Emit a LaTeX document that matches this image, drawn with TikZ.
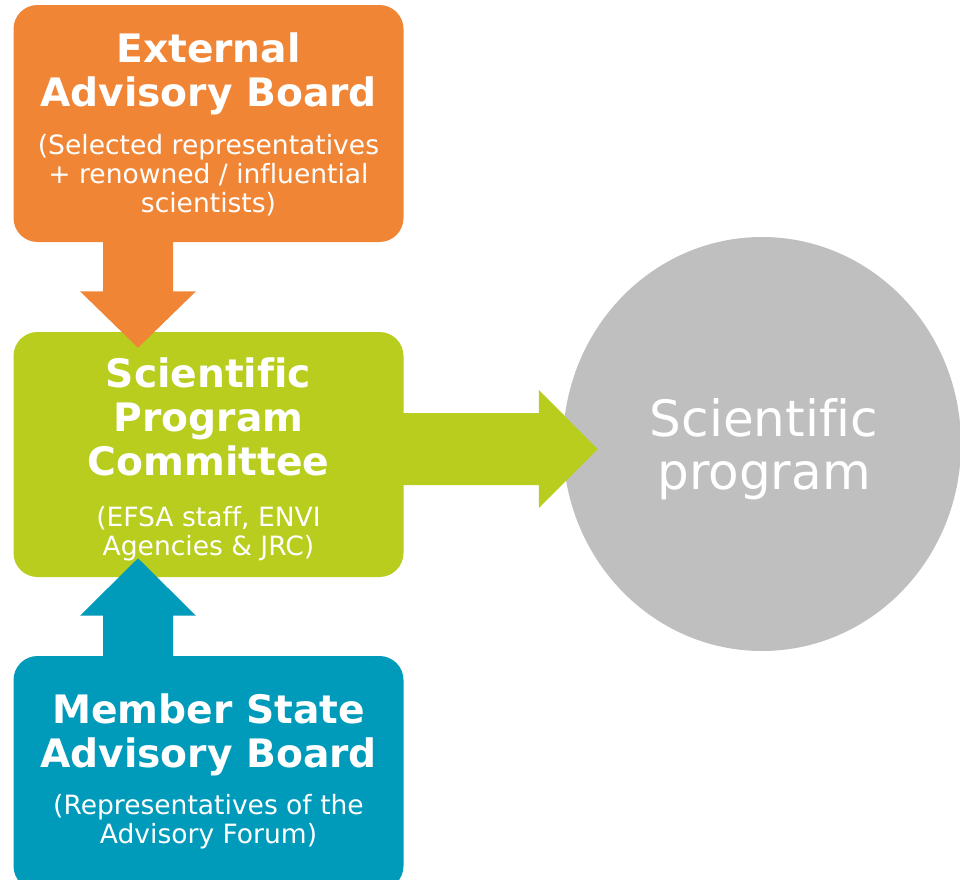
\documentclass[tikz,border=0pt]{standalone}
\usepackage{fontspec}
\setmainfont[Ligatures=NoCommon]{DejaVu Sans}
\usetikzlibrary{positioning,calc,shapes.geometric}

\definecolor{extorange}{HTML}{F18536}
\definecolor{spcgreen}{HTML}{B8CD1D}
\definecolor{msblue}{HTML}{009BBA}
\definecolor{proggray}{HTML}{BFBFBF}

\begin{document}
\begin{tikzpicture}[x=0.75pt,y=-0.75pt,
            box/.style={rounded corners=18pt,minimum width=292.5pt,inner sep=0pt},
            boxtitle/.style={text=white,align=center,inner sep=0pt,
                font=\fontsize{29.4pt}{33pt}\selectfont\bfseries},
            boxsub/.style={text=white,align=center,inner sep=0pt,
                font=\fontsize{19.9pt}{21.75pt}\selectfont}]

                % the page, 960 x 879
                \clip (0,0) rectangle (960,879);

                % The three boards
                \foreach \name/\col/\y/\h in {
                ext/extorange/123.5/177.75pt,
                spc/spcgreen/454.5/183.75pt,
                msab/msblue/773/175.5pt} {
                \node [box,fill=\col,minimum height=\h] (\name) at (208.5,\y) {};
                }

                % The programme
                \node [ellipse,fill=proggray,inner sep=0pt,minimum width=298.5pt,minimum height=310.5pt] (prog) at (762,444) {};

                % Block arrows
                \coordinate (extfoot) at ($(ext.south)+(-70.5,0)$);
                \coordinate (exttip) at ($(spc.north)+(-70.5,16)$);
                \fill [extorange] (extfoot) ++(-35,-2) -- ++(0,51) -- ++(-23,0) -- (exttip)
                    -- ($(extfoot)+(58,49)$) -- ++(-23,0) -- ++(0,-51) -- cycle;

                \coordinate (msabfoot) at ($(msab.north)+(-70.5,0)$);
                \coordinate (msabtip) at ($(spc.south)+(-70.5,-19)$);
                \fill [msblue] (msabfoot) ++(-35,2) -- ++(0,-42) -- ++(-23,0) -- (msabtip)
                    -- ($(msabfoot)+(58,-40)$) -- ++(-23,0) -- ++(0,42) -- cycle;

                \coordinate (spcfoot) at ($(spc.east)+(-2,-5.5)$);
                \coordinate (progtip) at ($(prog.west)+(35,5)$);
                \fill [spcgreen] (spcfoot) ++(0,-36) -- ++(137,0) -- ++(0,-23) -- (progtip)
                    -- ($(spcfoot)+(137,59)$) -- ++(0,-23) -- ++(-137,0) -- cycle;

                % Titles and who sits there
                \node [boxtitle,below=21pt of ext.north] (exttitle) {External\\Advisory Board};
                \node [boxsub,below=14pt of exttitle] (extsub) {(Selected representatives\\+ renowned / influential\\scientists)};

                \node [boxtitle,below=19.5pt of spc.north] (spctitle) {Scientific\\Program\\Committee};
                \node [boxsub,below=22pt of spctitle] (spcsub) {(EFSA staff, ENVI\\Agencies \& JRC)};

                \node [boxtitle,below=28pt of msab.north] (msabtitle) {Member State\\Advisory Board};
                \node [boxsub,below=14pt of msabtitle] (msabsub) {(Representatives of the\\Advisory Forum)};

                \node [text=white,align=center,font=\fontsize{37.5pt}{39.75pt}\selectfont] (progtext)
                    at ($(prog.center)+(2,5)$) {Scientific\\program};

\end{tikzpicture}
\end{document}
